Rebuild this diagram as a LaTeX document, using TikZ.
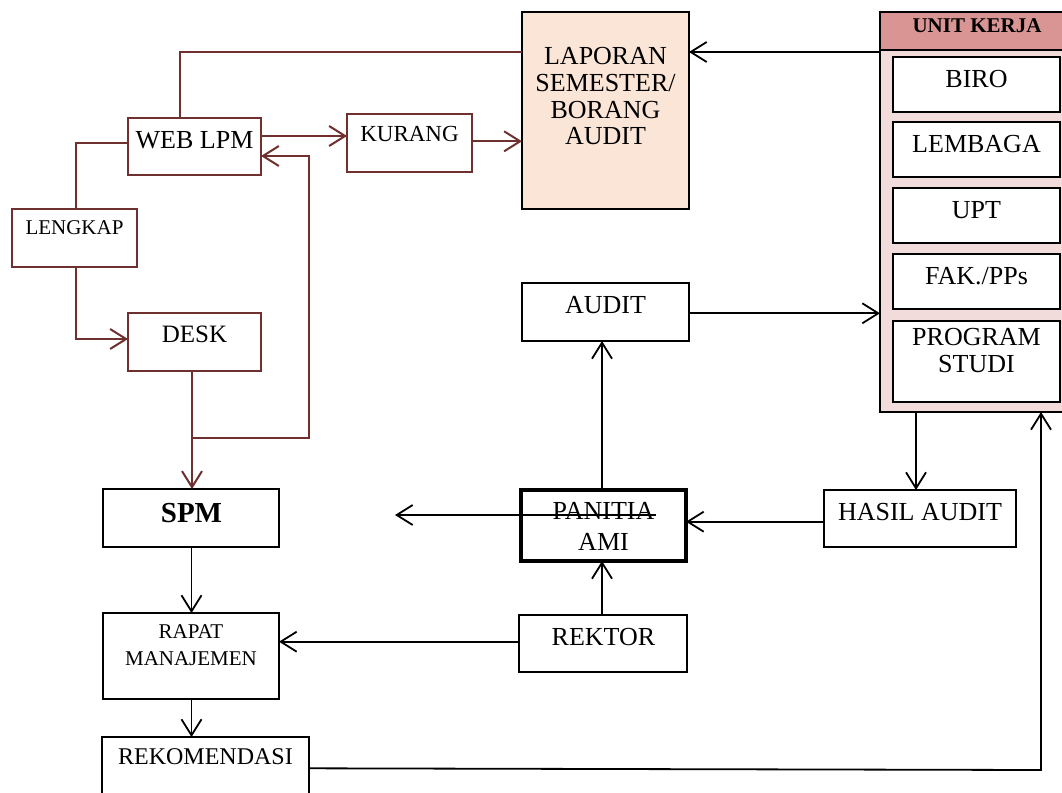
\documentclass[tikz,border=0pt]{standalone}
\usepackage{fontspec}
\setmainfont{Liberation Serif}
\usetikzlibrary{arrows.meta}
\definecolor{lpmred}{RGB}{112,48,48}
\definecolor{lapfill}{RGB}{251,229,214}
\definecolor{ukhead}{RGB}{217,149,148}
\definecolor{ukbody}{RGB}{242,220,219}
\newcommand\MkBox[6]{\node[#1, minimum width={#5-#3}, minimum height={#6-#4}] (#2) at ({(#3+#5)/2},{(#4+#6)/2}) {};}
\tikzset{
  bx/.style={draw=black, line width=2pt, rectangle, inner sep=0pt, outer sep=0pt, fill=white},
  rbx/.style={bx, draw=lpmred},
  txt/.style={inner sep=0pt, outer sep=0pt, text=black, align=center},
  mline/.style={draw=lpmred, line width=2pt},
  bline/.style={draw=black, line width=1.8pt},
  arr/.style={-{Straight Barb[length=16pt,width=20pt]}},
}
\newcommand\fs[1]{\fontsize{#1}{26.7}\selectfont}
\begin{document}
\begin{tikzpicture}[x=1pt,y=-1pt]
\useasboundingbox (0,0) rectangle (1062,792);
% ---- boxes ----
\MkBox{rbx}{web}{128}{118}{261}{175}
\MkBox{rbx}{lengkap}{12}{209}{137}{267}
\MkBox{rbx}{desk}{128}{313}{261}{371}
\MkBox{rbx}{kurang}{347}{114}{472}{172}
\MkBox{bx,fill=lapfill,line width=2.3pt}{laporan}{522}{12}{689}{209}
\MkBox{bx,fill=ukbody}{uk}{880}{12}{1068}{412}
\MkBox{bx,fill=ukhead}{ukh}{880}{12}{1068}{50}
\MkBox{bx}{biro}{893}{57}{1060}{112}
\MkBox{bx}{lembaga}{893}{122}{1060}{177}
\MkBox{bx}{upt}{893}{188}{1060}{243}
\MkBox{bx}{fak}{893}{254}{1060}{309}
\MkBox{bx}{prodi}{893}{321}{1060}{402}
\MkBox{bx}{audit}{522}{283}{689}{341}
\MkBox{bx}{spm}{103}{489}{279}{547}
\MkBox{bx,line width=4pt}{panitia}{521}{490}{686}{561}
\MkBox{bx}{hasil}{824}{490}{1016}{547}
\MkBox{bx}{rapat}{103}{613}{279}{699}
\MkBox{bx}{rektor}{519}{615}{687}{672}
\MkBox{bx}{rekom}{102}{737}{309}{810}
% ---- texts ----
\node[txt,font=\fs{26},anchor=base] (webt) at (194.5,148) {WEB LPM};
\node[txt,font=\fs{21},anchor=base] (lengkapt) at (74.5,234.3) {LENGKAP};
\node[txt,font=\fs{25},anchor=base] (deskt) at (194.5,342.7) {DESK};
\node[txt,font=\fs{23},anchor=base] (kurangt) at (409.5,141.7) {KURANG};
\node[txt,font=\fontsize{26}{26.7}\selectfont,anchor=north] (laport) at (605.5,47.6) {LAPORAN\\SEMESTER/\\BORANG\\AUDIT};
\node[txt,font=\bfseries\fs{21},anchor=base] (ukt) at (977,32.3) {UNIT KERJA};
\node[txt,font=\fs{26},anchor=base] (birot) at (976.5,87) {BIRO};
\node[txt,font=\fs{26},anchor=base] (lembagat) at (976.5,152.3) {LEMBAGA};
\node[txt,font=\fs{26},anchor=base] (uptt) at (976.5,218.3) {UPT};
\node[txt,font=\fs{26},anchor=base] (fakt) at (976.5,284.3) {FAK./PPs};
\node[txt,font=\fontsize{26}{27}\selectfont,anchor=north] (prodit) at (976.5,328.3) {PROGRAM\\STUDI};
\node[txt,font=\fs{26},anchor=base] (auditt) at (605.5,313.3) {AUDIT};
\node[txt,font=\bfseries\fs{29},anchor=base] (spmt) at (191.5,522.3) {SPM};
\node[txt,font=\fontsize{26}{31}\selectfont,anchor=north] (panitiat) at (603.5,502.6) {PANITIA\\AMI};
\node[txt,font=\fs{26},anchor=base] (hasilt) at (920,520) {HASIL AUDIT};
\node[txt,font=\fontsize{21}{26.7}\selectfont,anchor=north] (rapatt) at (191,624.9) {RAPAT\\MANAJEMEN};
\node[txt,font=\fs{26},anchor=base] (rektort) at (603.5,645) {REKTOR};
\node[txt,font=\fs{24},anchor=base] (rekomt) at (205.5,764.3) {REKOMENDASI};
% ---- helper coordinates ----
\coordinate (c1) at (180,52);
\coordinate (c2) at (0,136);
\coordinate (c3) at (0,141.3);
\coordinate (c4) at (76,143);
\coordinate (c5) at (76,339);
\coordinate (c6) at (192,438);
\coordinate (c7) at (309,438);
\coordinate (c8) at (309,156);
\coordinate (c9) at (602,0);
\coordinate (c10) at (0,313.3);
\coordinate (c11) at (916,0);
\coordinate (c12) at (0,521.7);
\coordinate (c13) at (656,515);
\coordinate (c14) at (395,515);
\coordinate (c15) at (0,641.7);
\coordinate (c16) at (191.5,0);
\coordinate (c17) at (0,768.3);
\coordinate (c18) at (1041,770);
% ---- maroon connectors ----
\draw[mline] (web.north -| c1) -- (c1) -- (laporan.west |- c1);
\draw[mline,arr] (web.east |- c2) -- (kurang.west |- c2);
\draw[mline,arr] (kurang.east |- c3) -- (laporan.west |- c3);
\draw[mline] (web.west |- c4) -- (c4) -- (lengkap.north -| c4);
\draw[mline,arr] (lengkap.south -| c5) -- (c5) -- (desk.west |- c5);
\draw[mline,arr] (desk.south -| c6) -- (spm.north -| c6);
\draw[mline,arr] (c6) -- (c7) -- (c8) -- (web.east |- c8);
% ---- black connectors ----
\draw[bline,arr] (uk.west |- c1) -- (laporan.east |- c1);
\draw[bline,arr] (panitia.north -| c9) -- (audit.south -| c9);
\draw[bline,arr] (audit.east |- c10) -- (uk.west |- c10);
\draw[bline,arr] (uk.south -| c11) -- (hasil.north -| c11);
\draw[bline,arr] (hasil.west |- c12) -- (panitia.east |- c12);
\draw[bline,arr] (c13) -- (c14);
\draw[bline,arr] (rektor.north -| c9) -- (panitia.south -| c9);
\draw[bline,arr] (rektor.west |- c15) -- (rapat.east |- c15);
\draw[bline,arr] (spm.south -| c16) -- (rapat.north -| c16);
\draw[bline,arr] (rapat.south -| c16) -- (rekom.north -| c16);
\draw[bline,arr] (rekom.east |- c17) -- (c18) -- (uk.south -| c18);
\end{tikzpicture}
\end{document}
